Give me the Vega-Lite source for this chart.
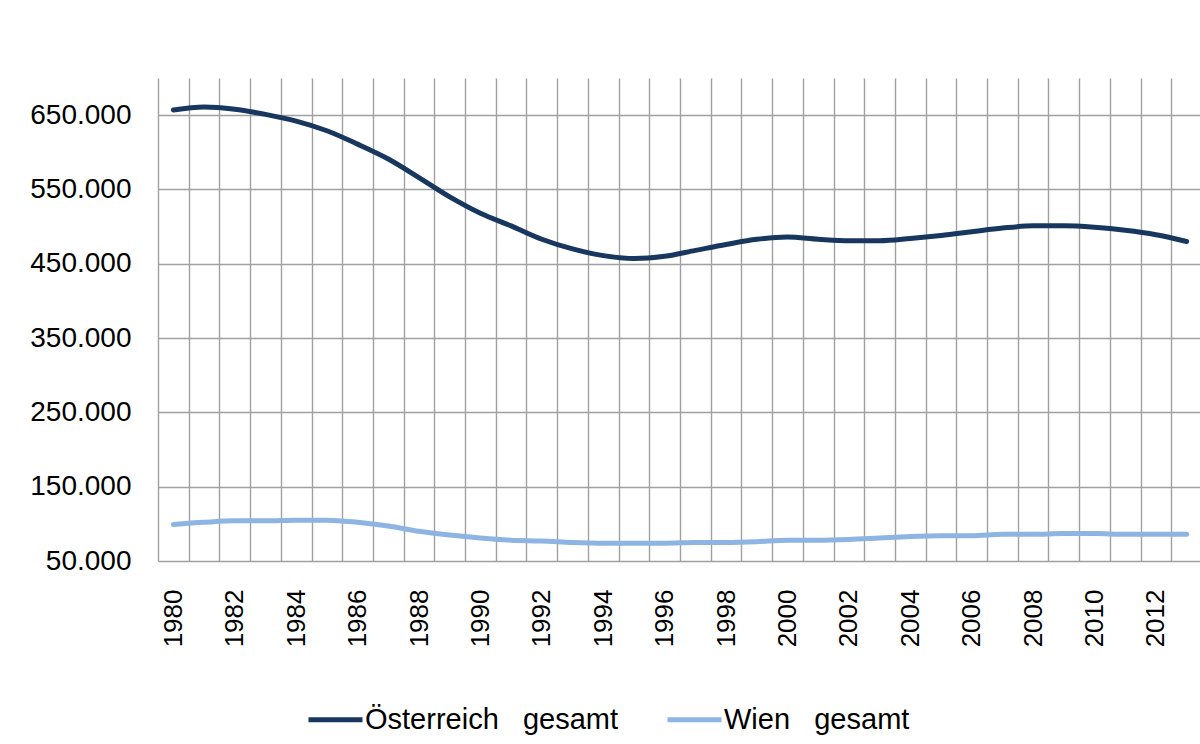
{
  "$schema": "https://vega.github.io/schema/vega-lite/v6.json",
  "autosize": {"type": "none"},
  "padding": {"left": 158, "top": 78, "right": 0, "bottom": 183},
  "width": 1044,
  "height": 483,
  "background": "white",
  "config": {
    "view": {"stroke": null},
    "font": "Liberation Sans",
    "axis": {"gridColor": "#a0a0a0", "gridWidth": 1.4, "gridOpacity": 1, "labelColor": "#000000", "labelFont": "Liberation Sans"}
  },
  "datasets": {
    "pop": [
      {"year": "1980", "serie": "Österreich gesamt", "value": 657000},
      {"year": "1981", "serie": "Österreich gesamt", "value": 661000},
      {"year": "1982", "serie": "Österreich gesamt", "value": 658000},
      {"year": "1983", "serie": "Österreich gesamt", "value": 651000},
      {"year": "1984", "serie": "Österreich gesamt", "value": 642000},
      {"year": "1985", "serie": "Österreich gesamt", "value": 629000},
      {"year": "1986", "serie": "Österreich gesamt", "value": 611000},
      {"year": "1987", "serie": "Österreich gesamt", "value": 591000},
      {"year": "1988", "serie": "Österreich gesamt", "value": 566000},
      {"year": "1989", "serie": "Österreich gesamt", "value": 540000},
      {"year": "1990", "serie": "Österreich gesamt", "value": 518000},
      {"year": "1991", "serie": "Österreich gesamt", "value": 501000},
      {"year": "1992", "serie": "Österreich gesamt", "value": 483000},
      {"year": "1993", "serie": "Österreich gesamt", "value": 470000},
      {"year": "1994", "serie": "Österreich gesamt", "value": 461000},
      {"year": "1995", "serie": "Österreich gesamt", "value": 457000},
      {"year": "1996", "serie": "Österreich gesamt", "value": 460000},
      {"year": "1997", "serie": "Österreich gesamt", "value": 468000},
      {"year": "1998", "serie": "Österreich gesamt", "value": 476000},
      {"year": "1999", "serie": "Österreich gesamt", "value": 483000},
      {"year": "2000", "serie": "Österreich gesamt", "value": 486000},
      {"year": "2001", "serie": "Österreich gesamt", "value": 483000},
      {"year": "2002", "serie": "Österreich gesamt", "value": 481000},
      {"year": "2003", "serie": "Österreich gesamt", "value": 481000},
      {"year": "2004", "serie": "Österreich gesamt", "value": 484000},
      {"year": "2005", "serie": "Österreich gesamt", "value": 488000},
      {"year": "2006", "serie": "Österreich gesamt", "value": 493000},
      {"year": "2007", "serie": "Österreich gesamt", "value": 498000},
      {"year": "2008", "serie": "Österreich gesamt", "value": 501000},
      {"year": "2009", "serie": "Österreich gesamt", "value": 501000},
      {"year": "2010", "serie": "Österreich gesamt", "value": 499000},
      {"year": "2011", "serie": "Österreich gesamt", "value": 495000},
      {"year": "2012", "serie": "Österreich gesamt", "value": 489000},
      {"year": "2013", "serie": "Österreich gesamt", "value": 480000},
      {"year": "1980", "serie": "Wien gesamt", "value": 99000},
      {"year": "1981", "serie": "Wien gesamt", "value": 102000},
      {"year": "1982", "serie": "Wien gesamt", "value": 104000},
      {"year": "1983", "serie": "Wien gesamt", "value": 104000},
      {"year": "1984", "serie": "Wien gesamt", "value": 105000},
      {"year": "1985", "serie": "Wien gesamt", "value": 105000},
      {"year": "1986", "serie": "Wien gesamt", "value": 102000},
      {"year": "1987", "serie": "Wien gesamt", "value": 97000},
      {"year": "1988", "serie": "Wien gesamt", "value": 90000},
      {"year": "1989", "serie": "Wien gesamt", "value": 85000},
      {"year": "1990", "serie": "Wien gesamt", "value": 81000},
      {"year": "1991", "serie": "Wien gesamt", "value": 78000},
      {"year": "1992", "serie": "Wien gesamt", "value": 77000},
      {"year": "1993", "serie": "Wien gesamt", "value": 75000},
      {"year": "1994", "serie": "Wien gesamt", "value": 74000},
      {"year": "1995", "serie": "Wien gesamt", "value": 74000},
      {"year": "1996", "serie": "Wien gesamt", "value": 74000},
      {"year": "1997", "serie": "Wien gesamt", "value": 75000},
      {"year": "1998", "serie": "Wien gesamt", "value": 75000},
      {"year": "1999", "serie": "Wien gesamt", "value": 76000},
      {"year": "2000", "serie": "Wien gesamt", "value": 78000},
      {"year": "2001", "serie": "Wien gesamt", "value": 78000},
      {"year": "2002", "serie": "Wien gesamt", "value": 79000},
      {"year": "2003", "serie": "Wien gesamt", "value": 81000},
      {"year": "2004", "serie": "Wien gesamt", "value": 83000},
      {"year": "2005", "serie": "Wien gesamt", "value": 84000},
      {"year": "2006", "serie": "Wien gesamt", "value": 84000},
      {"year": "2007", "serie": "Wien gesamt", "value": 86000},
      {"year": "2008", "serie": "Wien gesamt", "value": 86000},
      {"year": "2009", "serie": "Wien gesamt", "value": 87000},
      {"year": "2010", "serie": "Wien gesamt", "value": 87000},
      {"year": "2011", "serie": "Wien gesamt", "value": 86000},
      {"year": "2012", "serie": "Wien gesamt", "value": 86000},
      {"year": "2013", "serie": "Wien gesamt", "value": 86000}
    ]
  },
  "data": {"name": "pop"},
  "mark": {"type": "line", "strokeWidth": 5, "interpolate": "monotone", "strokeCap": "round"},
  "encoding": {
    "x": {
      "field": "year",
      "type": "ordinal",
      "bandPosition": 0.5,
      "scale": {"type": "band", "paddingInner": 0, "paddingOuter": 0},
      "axis": {
        "title": null,
        "tickBand": "extent",
        "grid": true,
        "domain": false,
        "ticks": false,
        "tickSize": 0,
        "labelAngle": 270,
        "labelFontSize": 26,
        "labelPadding": 28,
        "labelExpr": "toNumber(datum.value) % 2 == 0 ? datum.label : ''"
      }
    },
    "y": {
      "field": "value",
      "type": "quantitative",
      "scale": {"domain": [50000, 700000], "nice": false, "zero": false},
      "axis": {
        "title": null,
        "values": [50000, 150000, 250000, 350000, 450000, 550000, 650000],
        "grid": true,
        "domain": false,
        "ticks": false,
        "tickSize": 0,
        "labelFontSize": 28,
        "labelPadding": 27,
        "labelExpr": "replace(format(datum.value, ','), ',', '.')"
      }
    },
    "color": {
      "field": "serie",
      "type": "nominal",
      "scale": {"domain": ["Österreich gesamt", "Wien gesamt"], "range": ["#17375E", "#8DB4E2"]},
      "legend": {
        "title": null,
        "orient": "none",
        "legendX": 148,
        "legendY": 612,
        "direction": "horizontal",
        "symbolType": "stroke",
        "symbolSize": 2916,
        "symbolStrokeWidth": 5,
        "labelFontSize": 29,
        "labelFont": "Liberation Sans",
        "labelColor": "#000000",
        "labelLimit": 500,
        "labelOffset": 0,
        "labelExpr": "replace(datum.label, ' ', '\u00a0\u00a0\u00a0')",
        "columnPadding": 38,
        "padding": 0
      }
    }
  }
}
